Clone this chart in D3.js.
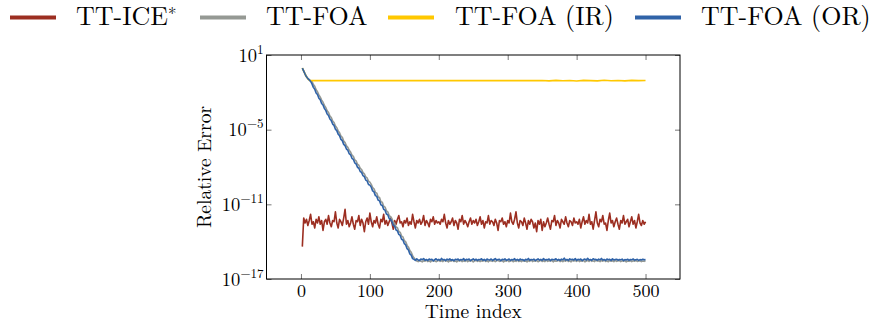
<!DOCTYPE html>
<html>
<head>
<meta charset="utf-8">
<script src="https://cdn.jsdelivr.net/npm/d3@7"></script>
<style>
  body { margin: 0; background: #fff; }
</style>
</head>
<body>
<svg id="chart" width="869" height="324"></svg>
<script>
// legend / series
const seriesNames = ["TT-ICE", "TT-FOA", "TT-FOA (IR)", "TT-FOA (OR)"];
const seriesColors = ["#9c2e21", "#959994", "#ffc800", "#3063a8"];

const xTicks = [0, 100, 200, 300, 400, 500];
const yTickExps = [1, -5, -11, -17];

// log10 of relative error, time index 2,4,6,...,500
const iceLog = [
  -14.4,-12.1,-12.5,-12.2,-12.7,-12.3,-11.8,-12.6,-12.4,-12.9,-12.2,-12.5,-12.0,-12.6,-12.3,-13.1,-12.4,-12.2,-12.6,-11.9,-12.5,-12.8,-12.3,-12.4,-11.6,
  -12.5,-12.9,-12.2,-12.4,-12.7,-12.1,-11.4,-12.6,-12.3,-12.8,-12.5,-12.0,-12.6,-13.0,-12.3,-12.4,-11.9,-12.7,-12.2,-12.5,-13.2,-12.4,-12.1,-12.6,-11.7,
  -12.4,-12.8,-12.3,-12.5,-12.0,-12.6,-12.9,-12.2,-12.4,-11.8,-12.6,-12.3,-12.7,-12.4,-12.1,-12.5,-13.0,-12.3,-12.6,-12.2,-11.9,-12.5,-12.4,-12.8,-12.3,
  -12.5,-12.1,-12.7,-12.4,-12.6,-11.8,-12.4,-12.9,-12.3,-12.5,-12.2,-12.6,-12.4,-11.9,-12.7,-12.3,-12.5,-12.8,-12.2,-12.4,-12.0,-12.6,-12.3,-12.5,-12.4,
  -12.6,-12.2,-12.4,-11.8,-12.5,-12.9,-12.3,-12.6,-12.4,-12.1,-12.7,-12.3,-12.5,-13.0,-12.2,-12.4,-11.9,-12.6,-12.3,-12.5,-12.8,-12.4,-12.1,-12.6,-12.3,
  -12.5,-12.2,-12.7,-12.4,-12.0,-12.6,-12.3,-12.9,-12.4,-12.5,-11.9,-12.6,-12.3,-12.4,-12.7,-12.2,-12.5,-13.1,-12.3,-12.4,-12.1,-12.6,-12.4,-12.8,-12.3,
  -12.5,-11.7,-12.4,-12.6,-12.2,-11.6,-12.5,-12.9,-12.3,-12.4,-12.7,-12.1,-12.5,-13.0,-12.3,-12.6,-12.2,-12.4,-12.9,-12.5,-13.2,-12.3,-12.6,-12.2,-13.1,
  -12.4,-12.8,-12.5,-12.1,-12.6,-13.0,-12.3,-12.4,-11.9,-12.7,-12.3,-12.5,-12.9,-12.2,-12.4,-12.6,-12.0,-12.5,-12.8,-12.3,-12.4,-12.7,-12.1,-12.5,-12.4,
  -12.6,-12.2,-12.9,-12.4,-12.0,-12.6,-12.3,-12.5,-11.8,-12.6,-12.4,-13.0,-12.3,-11.6,-12.5,-12.8,-12.2,-12.4,-11.9,-12.6,-12.5,-13.1,-12.3,-11.7,-12.5,
  -12.3,-12.8,-12.4,-12.1,-12.6,-13.0,-12.3,-12.5,-11.9,-12.6,-12.4,-12.2,-12.8,-12.4,-12.0,-12.6,-12.3,-12.9,-12.4,-11.8,-12.5,-12.7,-12.3,-12.6,-12.4
];

const foaLog = [
  -0.05,-0.28,-0.5,-0.72,-0.88,-0.98,-1.08,
  -1.12,-1.38,-1.52,-1.8,-1.95,-2.2,-2.38,-2.62,-2.8,-3.05,
  -3.22,-3.48,-3.62,-3.9,-4.02,-4.3,-4.42,-4.7,-4.85,-5.1,-5.25,-5.52,-5.62,-5.92,
  -6.04,-6.3,-6.42,-6.66,-6.8,-7.05,-7.14,-7.42,-7.5,-7.78,
  -7.86,-8.1,-8.2,-8.45,-8.55,-8.8,-8.88,-9.14,-9.22,
  -9.4,-9.66,-9.76,-10.04,-10.1,-10.42,-10.46,-10.8,-10.84,-11.15,-11.22,-11.52,-11.6,-11.9,-11.98,
  -12.16,-12.44,-12.52,-12.82,-12.88,-13.18,-13.25,-13.55,-13.62,-13.92,
  -14.02,-14.3,-14.44,-14.72,-14.85,-15.12,
  -15.3,-15.45,
  -15.55,-15.6,-15.5,-15.58,-15.62,-15.52,-15.57,-15.48,-15.6,-15.54,-15.63,-15.5,-15.56,-15.53,-15.61,-15.55,-15.49,
  -15.58,-15.52,-15.6,-15.47,-15.56,-15.54,-15.62,-15.51,-15.57,-15.49,-15.59,-15.55,-15.63,-15.52,-15.56,-15.5,-15.6,
  -15.54,-15.58,-15.48,-15.61,-15.53,-15.56,-15.5,-15.63,-15.55,-15.49,-15.58,-15.52,-15.6,-15.54,-15.57,-15.47,-15.59,
  -15.53,-15.62,-15.5,-15.56,-15.58,-15.51,-15.6,-15.54,-15.48,-15.58,-15.55,-15.52,-15.63,-15.53,-15.57,-15.49,-15.6,
  -15.56,-15.5,-15.61,-15.54,-15.58,-15.47,-15.59,-15.53,-15.6,-15.5,-15.57,-15.55,-15.62,-15.52,-15.58,-15.46,-15.6,
  -15.54,-15.57,-15.51,-15.61,-15.55,-15.49,-15.59,-15.53,-15.6,-15.47,-15.58,-15.54,-15.56,-15.5,-15.62,-15.52,-15.57,
  -15.55,-15.48,-15.6,-15.53,-15.61,-15.51,-15.57,-15.45,-15.59,-15.54,-15.62,-15.49,-15.56,-15.52,-15.58,-15.47,-15.6,
  -15.53,-15.57,-15.5,-15.62,-15.55,-15.51,-15.59,-15.46,-15.58,-15.54,-15.6,-15.48,-15.56,-15.53,-15.6,-15.51,-15.57,
  -15.47,-15.59,-15.54,-15.61,-15.5,-15.57,-15.53,-15.6,-15.49,-15.58,-15.55,-15.52,-15.6,-15.54,-15.57,-15.51,-15.62,
  -15.55,-15.58,-15.52,-15.6,-15.54,-15.57,-15.5,-15.59,-15.56,-15.53,-15.6,-15.55,-15.58,-15.54
];

const orLog = [
  -0.05,-0.3,-0.55,-0.75,-0.9,-1.0,-1.12,
  -1.32,-1.6,-1.75,-2.05,-2.18,-2.47,-2.6,-2.9,-3.02,-3.3,
  -3.45,-3.74,-3.86,-4.14,-4.27,-4.55,-4.66,-4.96,-5.08,-5.36,-5.48,-5.78,-5.88,-6.18,
  -6.28,-6.56,-6.65,-6.93,-7.02,-7.3,-7.38,-7.66,-7.75,-8.02,
  -8.1,-8.36,-8.44,-8.7,-8.78,-9.05,-9.12,-9.4,-9.46,
  -9.62,-9.92,-10.0,-10.3,-10.36,-10.66,-10.72,-11.04,-11.1,-11.4,-11.47,-11.78,-11.84,-12.14,-12.22,
  -12.4,-12.69,-12.76,-13.06,-13.13,-13.42,-13.5,-13.8,-13.86,-14.16,
  -14.26,-14.56,-14.67,-14.98,-15.08,-15.36,
  -15.42,-15.5,-15.38,-15.47,-15.52,-15.4,-15.45,-15.36,-15.49,-15.43,-15.51,-15.39,-15.46,-15.41,-15.54,-15.44,-15.37,
  -15.48,-15.42,-15.5,-15.35,-15.46,-15.43,-15.52,-15.4,-15.47,-15.38,-15.49,-15.44,-15.53,-15.41,-15.46,-15.39,-15.5,
  -15.43,-15.47,-15.36,-15.51,-15.42,-15.45,-15.4,-15.53,-15.44,-15.38,-15.48,-15.41,-15.5,-15.43,-15.46,-15.37,-15.49,
  -15.42,-15.52,-15.4,-15.45,-15.47,-15.39,-15.5,-15.43,-15.36,-15.48,-15.44,-15.41,-15.53,-15.42,-15.46,-15.38,-15.49,
  -15.45,-15.4,-15.51,-15.43,-15.47,-15.37,-15.48,-15.42,-15.5,-15.39,-15.46,-15.44,-15.52,-15.41,-15.47,-15.35,-15.49,
  -15.43,-15.46,-15.4,-15.51,-15.44,-15.38,-15.48,-15.42,-15.5,-15.36,-15.47,-15.43,-15.45,-15.39,-15.52,-15.41,-15.46,
  -15.44,-15.37,-15.49,-15.42,-15.5,-15.4,-15.46,-15.33,-15.48,-15.43,-15.51,-15.38,-15.45,-15.41,-15.47,-15.36,-15.5,
  -15.42,-15.46,-15.39,-15.52,-15.44,-15.4,-15.48,-15.34,-15.47,-15.43,-15.5,-15.37,-15.45,-15.42,-15.49,-15.4,-15.46,
  -15.35,-15.48,-15.43,-15.51,-15.39,-15.46,-15.42,-15.5,-15.38,-15.47,-15.44,-15.41,-15.49,-15.43,-15.46,-15.4,-15.52,
  -15.44,-15.47,-15.41,-15.5,-15.43,-15.46,-15.39,-15.48,-15.45,-15.42,-15.5,-15.44,-15.47,-15.41,-15.46,-15.43
];

// IR variant stalls early, sampled more sparsely
const irIdx = [2, 4, 6, 8, 10, 12, 14].concat(d3.range(20, 501, 10));
const irLog = [
  -0.05,-0.3,-0.55,-0.75,-0.92,-1.02,-1.06,
  -1.06,-1.06,-1.06,-1.06,-1.06,-1.06,-1.06,-1.06,-1.06,-1.06,-1.06,-1.06,-1.06,-1.06,-1.06,-1.06,-1.06,
  -1.06,-1.06,-1.06,-1.06,-1.06,-1.06,-1.06,-1.06,-1.06,-1.06,-1.06,-1.06,-1.06,-1.06,-1.06,-1.06,
  -1.05,-1.08,-1.04,-1.07,-1.05,-1.09,-1.04,-1.06,-1.08,-1.03,-1.07,-1.05,-1.08,-1.04,-1.06,-1.05
];

const serif = "'Latin Modern Roman'";

const svg = d3.select("#chart");
const plotLeft = 266.5, plotRight = 680, plotTop = 55, plotBottom = 279;

const x = d3.scaleLinear().domain([-50, 550]).range([plotLeft, plotRight]);
const y = d3.scaleLog().domain([1e-17, 1e1]).range([plotBottom, plotTop]);

const toPts = (vals, idx) => vals.map((v, i) => [idx ? idx[i] : 2 + 2 * i, Math.pow(10, v)]);

const line = d3.line().x(d => x(d[0])).y(d => y(d[1]));

// plot lines (draw order: ICE, FOA, IR, OR)
const plotted = [
  { pts: toPts(iceLog), color: seriesColors[0] },
  { pts: toPts(foaLog), color: seriesColors[1] },
  { pts: toPts(irLog, irIdx), color: seriesColors[2] },
  { pts: toPts(orLog), color: seriesColors[3] }
];

svg.append("g")
  .selectAll("path")
  .data(plotted)
  .enter()
  .append("path")
  .attr("d", d => line(d.pts))
  .attr("fill", "none")
  .attr("stroke", d => d.color)
  .attr("stroke-width", 1.6)
  .attr("stroke-linejoin", "round");

// ticks on all four sides, pointing inwards
const tickStyle = g => {
  g.select(".domain").remove();
  g.selectAll(".tick line").attr("stroke", "#555").attr("stroke-width", 0.8);
};

svg.append("g")
  .attr("transform", "translate(0," + plotBottom + ")")
  .call(d3.axisBottom(x).tickValues(xTicks).tickSizeInner(-5).tickSizeOuter(0).tickPadding(5).tickFormat(d3.format("d")))
  .call(tickStyle)
  .selectAll("text")
  .style("font-family", serif)
  .style("font-size", "18px")
  .attr("fill", "#000");

svg.append("g")
  .attr("transform", "translate(0," + plotTop + ")")
  .call(d3.axisTop(x).tickValues(xTicks).tickSizeInner(-5).tickSizeOuter(0).tickFormat(""))
  .call(tickStyle);

const yTicks = yTickExps.map(e => Math.pow(10, e));

svg.append("g")
  .attr("transform", "translate(" + plotLeft + ",0)")
  .call(d3.axisLeft(y).tickValues(yTicks).tickSizeInner(-5).tickSizeOuter(0).tickFormat(""))
  .call(tickStyle);

svg.append("g")
  .attr("transform", "translate(" + plotRight + ",0)")
  .call(d3.axisRight(y).tickValues(yTicks).tickSizeInner(-5).tickSizeOuter(0).tickFormat(""))
  .call(tickStyle);

// y tick labels 10^e
const yLab = svg.append("g")
  .selectAll("text")
  .data(yTickExps)
  .enter()
  .append("text")
  .attr("x", plotLeft - 3)
  .attr("y", d => y(Math.pow(10, d)) + 6.5)
  .attr("text-anchor", "end")
  .style("font-family", serif)
  .style("font-size", "18.5px");
yLab.append("tspan").text("10");
yLab.append("tspan")
  .attr("dy", -8)
  .style("font-size", "13px")
  .text(d => d < 0 ? "\u2212" + (-d) : String(d));

// frame
svg.append("rect")
  .attr("x", plotLeft)
  .attr("y", plotTop)
  .attr("width", plotRight - plotLeft)
  .attr("height", plotBottom - plotTop)
  .attr("fill", "none")
  .attr("stroke", "#000")
  .attr("stroke-width", 1);

// axis labels
svg.append("text")
  .attr("x", (plotLeft + plotRight) / 2)
  .attr("y", 318)
  .attr("text-anchor", "middle")
  .style("font-family", serif)
  .style("font-size", "19.5px")
  .text("Time index");

svg.append("text")
  .attr("transform", "translate(211," + ((plotTop + plotBottom) / 2) + ") rotate(-90)")
  .attr("text-anchor", "middle")
  .style("font-family", serif)
  .style("font-size", "19.5px")
  .text("Relative Error");

// legend across the top
const legendX = [10, 200, 388, 635];
const legend = svg.append("g")
  .selectAll("g")
  .data(seriesNames)
  .enter()
  .append("g")
  .attr("transform", (d, i) => "translate(" + legendX[i] + ",0)");

legend.append("line")
  .attr("x1", 0)
  .attr("x2", 46)
  .attr("y1", 17.5)
  .attr("y2", 17.5)
  .attr("stroke", (d, i) => seriesColors[i])
  .attr("stroke-width", 4);

const legText = legend.append("text")
  .attr("x", (d, i) => i === 2 ? 67 : 66)
  .attr("y", 25)
  .style("font-family", serif)
  .style("font-size", "26px")
  .text(d => d);

legText.filter((d, i) => i === 0)
  .append("tspan")
  .attr("dy", -10)
  .style("font-size", "17px")
  .text("\u2217");
</script>
</body>
</html>
